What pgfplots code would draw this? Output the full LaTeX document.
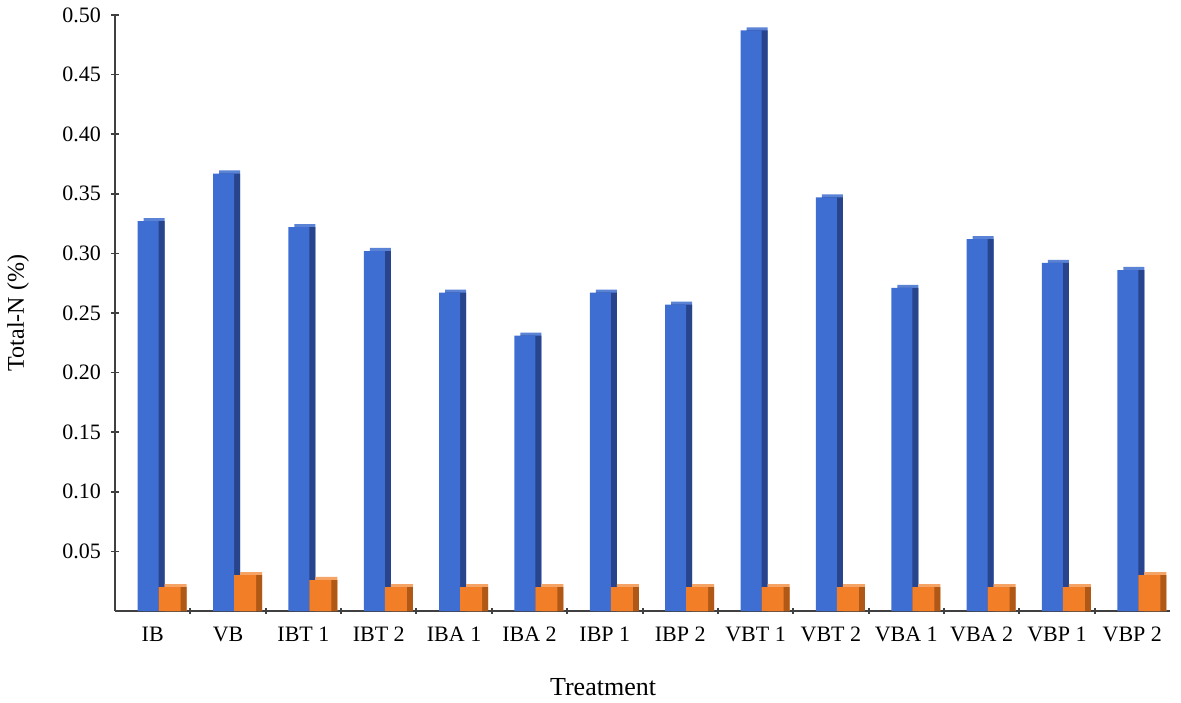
\documentclass[border=0pt]{standalone}
\usepackage{pgfplots}
\pgfplotsset{compat=1.18}
\usepackage{pgfplotstable}
\usepackage{fontspec}
\setmainfont{Liberation Serif}

\definecolor{bluefront}{HTML}{3E6ED2}
\definecolor{blueside}{HTML}{28448C}
\definecolor{bluetop}{HTML}{5A83D6}
\definecolor{orangefront}{HTML}{F27E28}
\definecolor{orangeside}{HTML}{B05816}
\definecolor{orangetop}{HTML}{F6A366}
\definecolor{axisgray}{HTML}{404040}

% Total-N (%) per treatment; second column is the small companion series
\pgfplotstableread{
idx totaln other
0  0.327 0.020
1  0.367 0.030
2  0.322 0.026
3  0.302 0.020
4  0.267 0.020
5  0.231 0.020
6  0.267 0.020
7  0.257 0.020
8  0.487 0.020
9  0.347 0.020
10 0.271 0.020
11 0.312 0.020
12 0.292 0.020
13 0.286 0.030
}\datatable

\begin{document}
\begin{tikzpicture}
\begin{axis}[
  scale only axis,
  width=527.5pt, height=298pt,
  xmin=-0.5, xmax=13.5,
  ymin=0, ymax=0.5,
  axis lines=left,
  axis line style={draw=axisgray, line width=0.9pt, -},
  xtick={0,...,13},
  xticklabels={IB,VB,IBT 1,IBT 2,IBA 1,IBA 2,IBP 1,IBP 2,VBT 1,VBT 2,VBA 1,VBA 2,VBP 1,VBP 2},
  every major x tick/.style={draw=none},
  minor xtick={0.5,1.5,2.5,3.5,4.5,5.5,6.5,7.5,8.5,9.5,10.5,11.5,12.5},
  every minor x tick/.style={draw=axisgray, line width=1pt},
  minor tick length=3pt,
  ytick={0.05,0.10,0.15,0.20,0.25,0.30,0.35,0.40,0.45,0.50},
  every major y tick/.style={draw=axisgray, line width=0.8pt},
  major tick length=4pt,
  tick align=center,
  /pgf/number format/fixed,
  /pgf/number format/fixed zerofill,
  /pgf/number format/precision=2,
  /pgf/number format/assume math mode=true,
  yticklabel style={xshift=-1.5pt},
  xticklabel style={yshift=-2.5pt},
  tick label style={font=\fontsize{11}{13}\selectfont},
  xlabel={Treatment},
  ylabel={Total-N (\%)},
  xlabel style={font=\fontsize{13}{15}\selectfont, at={(axis description cs:0.4626,-0.1275)}, anchor=center},
  ylabel style={font=\fontsize{12}{14}\selectfont, at={(axis description cs:-0.0919,0.5)}, anchor=center},
]
% blue series: top face, side face, front face
\addplot[ybar, bar width=10.5pt, bar shift=0.75pt, fill=bluetop, draw=none]
  table[x=idx, y expr=\thisrow{totaln}+0.0026] {\datatable};
\addplot[ybar, bar width=10.5pt, bar shift=0.75pt, fill=blueside, draw=none]
  table[x=idx, y=totaln] {\datatable};
\addplot[ybar, bar width=10.5pt, bar shift=-2.25pt, fill=bluefront, draw=none]
  table[x=idx, y=totaln] {\datatable};
% orange series: top face, side face, front face
\addplot[ybar, bar width=11pt, bar shift=11.5pt, fill=orangetop, draw=none]
  table[x=idx, y expr=\thisrow{other}+0.0026] {\datatable};
\addplot[ybar, bar width=11pt, bar shift=11.5pt, fill=orangeside, draw=none]
  table[x=idx, y=other] {\datatable};
\addplot[ybar, bar width=11pt, bar shift=8.5pt, fill=orangefront, draw=none]
  table[x=idx, y=other] {\datatable};
\end{axis}
\pgfresetboundingbox
\path (-57.5pt,-45.5pt) rectangle (533pt,305.5pt);
\end{tikzpicture}
\end{document}
